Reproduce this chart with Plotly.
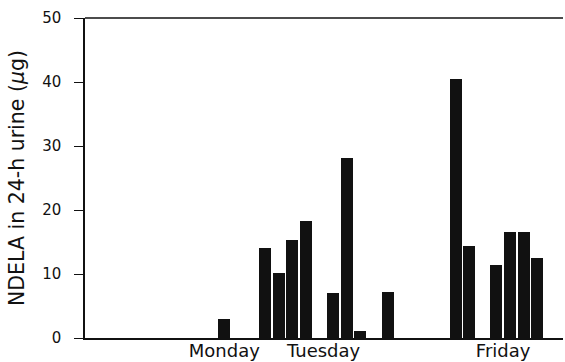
import plotly.graph_objects as go

# bar slot positions along the x axis and NDELA values (ug)
slots = [-3, 0, 1, 2, 3, 5, 6, 7, 9, 14, 15, 17, 18, 19, 20]
ndela = [3.0, 14.1, 10.1, 15.3, 18.3, 7.1, 28.2, 1.1, 7.2, 40.4, 14.4, 11.4, 16.5, 16.5, 12.5]

# day labels under the axis
day_pos = [-3.0, 4.3, 17.5]
day_labels = ["Monday", "Tuesday", "Friday"]

fig = go.Figure()
fig.add_trace(go.Bar(x=slots, y=ndela, width=0.88, marker_color="#111111",
                     marker_line_width=0))

fam = "DejaVu Sans, Verdana, sans-serif"
tick_font = dict(family=fam, size=15, color="#111111")
day_font = dict(family=fam, size=18, color="#111111")
title_font = dict(family=fam, size=20.5, color="#111111")

fig.update_layout(
    width=565, height=362,
    margin=dict(l=85, r=2, t=18, b=24),
    paper_bgcolor="white", plot_bgcolor="white",
    font=tick_font, showlegend=False, bargap=0,
)

fig.update_xaxes(range=[-13.24, 21.9], tickvals=day_pos, ticktext=day_labels,
                 ticks="", ticklabelstandoff=-4, automargin=False,
                 showline=True, linecolor="#111111", linewidth=1.5,
                 showgrid=False, zeroline=False, tickfont=day_font)

fig.update_yaxes(range=[0, 50], tickvals=[0, 10, 20, 30, 40, 50],
                 ticks="outside", ticklen=9, tickcolor="#111111", tickwidth=1,
                 ticklabelstandoff=10, automargin=False,
                 showline=True, linecolor="#111111", linewidth=1.5,
                 showgrid=False, zeroline=False, tickfont=tick_font,
                 title=dict(text="NDELA in 24-h urine (<i>μ</i>g)", font=title_font, standoff=12))

# top frame line
fig.add_shape(type="line", xref="paper", yref="paper", x0=0, x1=1, y0=1, y1=1,
              line=dict(color="#111111", width=1.5))

# drop the default page margin so the figure sits at the window corner
fig.write_html("out.html", config={"displayModeBar": False},
               post_script="document.body.style.margin='0';")
